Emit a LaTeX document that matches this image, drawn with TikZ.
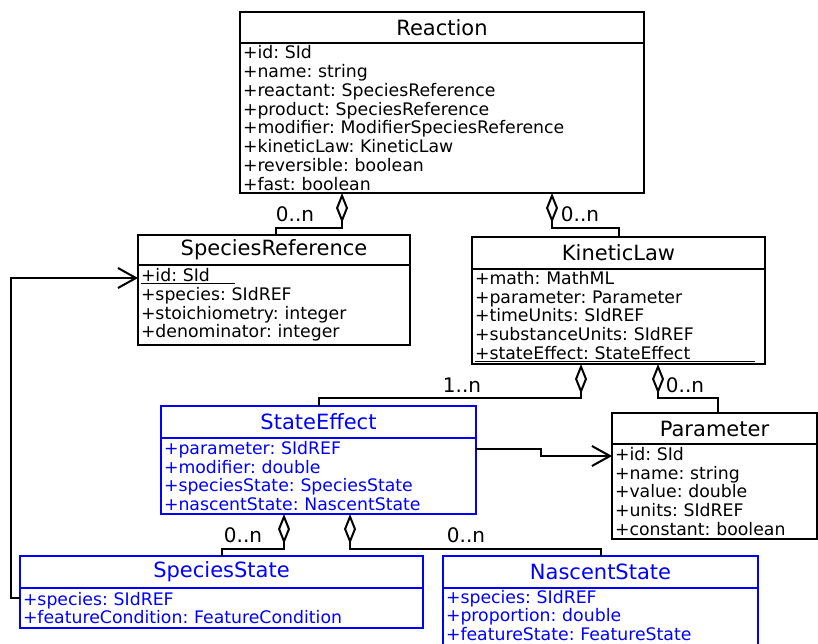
\documentclass[tikz,border=0pt]{standalone}
\usepackage{fontspec}
\setmainfont{DejaVu Sans}
\usetikzlibrary{arrows.meta}
\newcommand{\attrfont}{\frenchspacing\fontsize{17.3}{18.75}\selectfont}
\newcommand{\headfont}{\fontsize{21}{24}\selectfont}

\begin{document}
\begin{tikzpicture}[x=1pt,y=1pt,
  umlhead/.style={draw,line width=2pt,anchor=north west,inner sep=0pt,outer sep=0pt,font=\headfont},
  umlattr/.style={draw,line width=2pt,anchor=north west,inner xsep=3pt,inner ysep=0pt,outer sep=0pt,align=left,font=\attrfont},
  newcls/.style={draw=blue,text=blue},
  agg/.style={line width=2pt,arrows={Diamond[open,length=30pt,width=12pt]-}},
  assoc/.style={line width=2pt,arrows={-Straight Barb[length=18pt,width=20pt]}},
  mult/.style={inner sep=0pt,font=\fontsize{20}{24}\selectfont}]
  \useasboundingbox (0,0) rectangle (818,-644);
  % classes
  \node[umlhead,minimum width=404pt,minimum height=31pt] (reac) at (240,-12) {Reaction};
  \node[umlattr,text width=398pt,minimum height=150pt] (reacA) at (reac.south west)
    {+id: SId\\+name: string\\+reactant: SpeciesReference\\+product: SpeciesReference\\+modifier: ModifierSpeciesReference\\+kineticLaw: KineticLaw\\+reversible: boolean\\+fast: boolean};
  \node[umlhead,minimum width=272pt,minimum height=30pt] (sref) at (138,-235) {SpeciesReference};
  \node[umlattr,text width=266pt,minimum height=80pt] (srefA) at (sref.south west)
    {\underline{\makebox[94pt][l]{+id: SId}}\\+species: SIdREF\\+stoichiometry: integer\\+denominator: integer};
  \node[umlhead,minimum width=293pt,minimum height=32pt] (klaw) at (472,-237) {KineticLaw};
  \node[umlattr,text width=287pt,minimum height=95pt] (klawA) at (klaw.south west)
    {+math: MathML\\+parameter: Parameter\\+timeUnits: SIdREF\\+substanceUnits: SIdREF\\\underline{\makebox[280pt][l]{+stateEffect: StateEffect}}};
  \node[umlhead,newcls,minimum width=315pt,minimum height=32pt] (se) at (161,-406) {StateEffect};
  \node[umlattr,newcls,text width=309pt,minimum height=76pt] (seA) at (se.south west)
    {+parameter: SIdREF\\+modifier: double\\+speciesState: SpeciesState\\+nascentState: NascentState};
  \node[umlhead,minimum width=205pt,minimum height=31pt] (par) at (612,-413) {Parameter};
  \node[umlattr,text width=199pt,minimum height=95pt] (parA) at (par.south west)
    {+id: SId\\+name: string\\+value: double\\+units: SIdREF\\+constant: boolean};
  \node[umlhead,newcls,minimum width=403pt,minimum height=32pt] (sst) at (20,-556) {SpeciesState};
  \node[umlattr,newcls,text width=397pt,minimum height=40pt] (sstA) at (sst.south west)
    {+species: SIdREF\\+featureCondition: FeatureCondition};
  \node[umlhead,newcls,minimum width=315pt,minimum height=32pt] (nst) at (443,-556) {NascentState};
  \node[umlattr,newcls,text width=309pt,inner ysep=2pt,text depth=49.5pt] (nstA) at (nst.south west)
    {+species: SIdREF\\+proportion: double\\+featureState: FeatureState};
  % aggregations
  \draw[agg] ([xshift=102pt]reacA.south west) -- ++(0,-35) -| ([xshift=138pt]sref.north west);
  \draw[agg] ([xshift=312pt]reacA.south west) -- ++(0,-35) -| (klaw.north);
  \draw[agg] ([xshift=109pt]klawA.south west) -- ++(0,-34) -| (se.north);
  \draw[agg] ([xshift=186pt]klawA.south west) -- ++(0,-34) -| ([xshift=106pt]par.north west);
  \draw[agg] ([xshift=123pt]seA.south west) -- ++(0,-35) -| (sst.north);
  \draw[agg] ([xshift=189pt]seA.south west) -- ++(0,-35) -| (nst.north);
  % associations
  \draw[assoc] ([yshift=-11pt]seA.north east) -- ++(65,0) |- ([yshift=-12pt]parA.north west);
  \draw[assoc] ([yshift=-10pt]sstA.north west) -- ++(-9,0) |- ([yshift=-13pt]srefA.north west);
  % multiplicities
  \node[mult] (mSref) at (295,-214) {0..n};
  \node[mult] (mKlaw) at (580,-214) {0..n};
  \node[mult] (mSe) at (462,-385) {1..n};
  \node[mult] (mPar) at (685,-385) {0..n};
  \node[mult] (mSst) at (243,-535) {0..n};
  \node[mult] (mNst) at (466,-535) {0..n};
\end{tikzpicture}
\end{document}
